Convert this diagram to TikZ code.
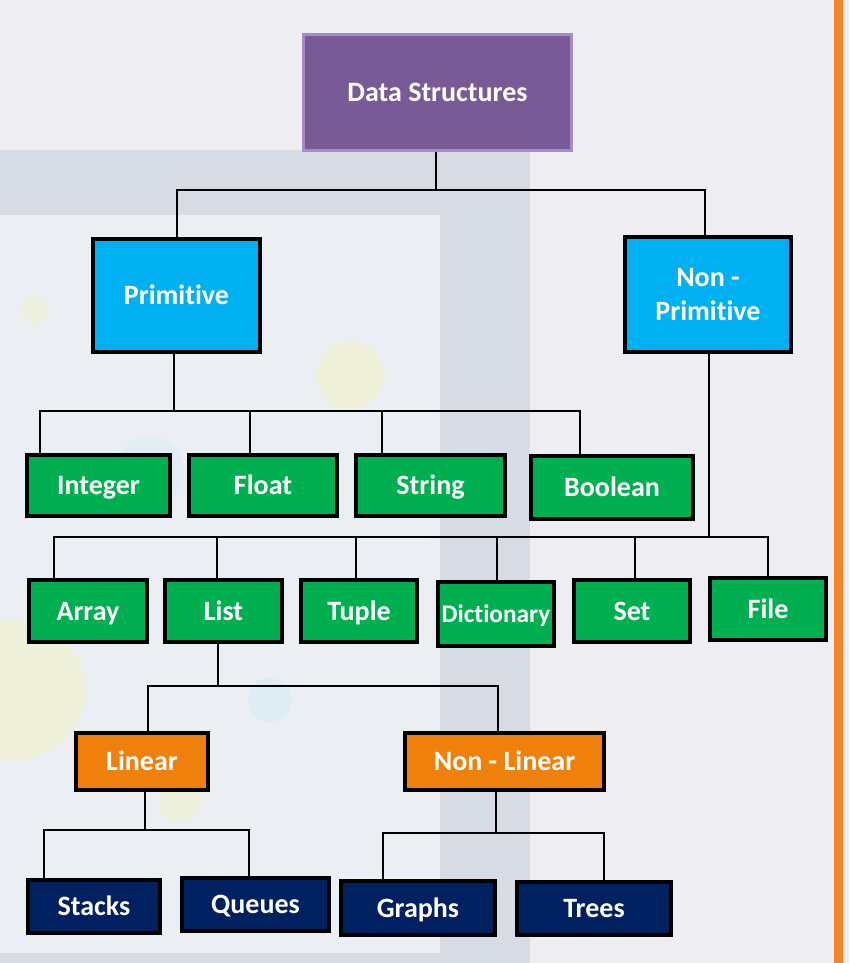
\documentclass[tikz,border=0pt]{standalone}
\usepackage{fontspec}
\setmainfont{Carlito}[Ligatures=NoCommon]
\definecolor{bgc}{HTML}{EEEDF1}
\definecolor{framec}{HTML}{D7DBE3}
\definecolor{screenc}{HTML}{EBEFF3}
\definecolor{dsfill}{HTML}{785A96}
\definecolor{dsline}{HTML}{A68BC5}
\definecolor{bluec}{HTML}{00B0F0}
\definecolor{greenc}{HTML}{00B050}
\definecolor{orangec}{HTML}{EF800C}
\definecolor{navyc}{HTML}{002060}
\definecolor{stripec}{HTML}{F5862A}
\tikzset{
  bx/.style={draw=black, line width=3.2pt, text=white, font=\fontsize{21}{25}\selectfont\bfseries, align=center, inner sep=0pt, text height=13.5pt, text depth=0pt},
  pbox/.style={bx, fill=bluec},
  gbox/.style={bx, fill=greenc},
  obox/.style={bx, fill=orangec},
  nbox/.style={bx, fill=navyc},
  ln/.style={draw=black, line width=1.5pt},
}
\begin{document}
\begin{tikzpicture}[x=0.75pt,y=-0.75pt]
\useasboundingbox (0,0) rectangle (849,963);
% background
\fill[bgc] (0,0) rectangle (849,963);
\fill[framec] (0,150) rectangle (530,963);
\fill[screenc] (0,215) rectangle (440,953);
\fill[yellow!60!white, opacity=0.18] (350,375) circle (34);
\fill[yellow!60!white, opacity=0.18] (15,690) circle (70);
\fill[cyan!40!white, opacity=0.12] (150,470) circle (34);
\fill[cyan!40!white, opacity=0.15] (270,700) circle (22);
\fill[yellow!60!white, opacity=0.15] (35,310) circle (14);
\fill[yellow!60!white, opacity=0.15] (180,800) circle (22);
\fill[stripec] (834,0) rectangle (843,963);

% nodes
\node[bx, fill=dsfill, draw=dsline, line width=2.6pt, minimum width=268*0.75pt, minimum height=116*0.75pt] (ds) at (437.5,92.5) {Data Structures};
\node[pbox, minimum width=167*0.75pt, minimum height=113*0.75pt] (prim) at (176.5,295.5) {Primitive};
\node[pbox, minimum width=166*0.75pt, minimum height=115*0.75pt, text height=, text depth=] (nonprim) at (708,294.5) {Non -\\Primitive};

\node[gbox, minimum width=143*0.75pt, minimum height=61*0.75pt] (int) at (98.5,485.5) {Integer};
\node[gbox, minimum width=148*0.75pt, minimum height=61*0.75pt] (float) at (263,485.5) {Float};
\node[gbox, minimum width=149*0.75pt, minimum height=61*0.75pt] (str) at (430.5,485.5) {String};
\node[gbox, minimum width=162*0.75pt, minimum height=63*0.75pt] (bool) at (612,487.5) {Boolean};

\node[gbox, minimum width=118*0.75pt, minimum height=62*0.75pt] (arr) at (88,611) {Array};
\node[gbox, minimum width=117*0.75pt, minimum height=62*0.75pt] (list) at (223.5,611) {List};
\node[gbox, minimum width=116*0.75pt, minimum height=62*0.75pt] (tup) at (359,611) {Tuple};
\node[gbox, minimum width=116*0.75pt, minimum height=64*0.75pt, font=\fontsize{19}{22}\selectfont\bfseries, text height=12.2pt] (dict) at (496,614) {Dictionary};
\node[gbox, minimum width=116*0.75pt, minimum height=62*0.75pt] (set) at (632,611) {Set};
\node[gbox, minimum width=116*0.75pt, minimum height=62*0.75pt] (file) at (768,609) {File};

\node[obox, minimum width=132*0.75pt, minimum height=57*0.75pt] (lin) at (142,761.5) {Linear};
\node[obox, minimum width=199*0.75pt, minimum height=57*0.75pt] (nonlin) at (504.5,761.5) {Non - Linear};

\node[nbox, minimum width=132*0.75pt, minimum height=53*0.75pt] (stk) at (94,906.5) {Stacks};
\node[nbox, minimum width=147*0.75pt, minimum height=53*0.75pt] (que) at (255.5,904.5) {Queues};
\node[nbox, minimum width=154*0.75pt, minimum height=54*0.75pt] (gra) at (418,908) {Graphs};
\node[nbox, minimum width=154*0.75pt, minimum height=53*0.75pt] (tre) at (594,908.5) {Trees};

% bus coordinates
\coordinate (b1) at (436,190);
\coordinate (b1l) at (177,190);
\coordinate (b1r) at (705,190);
\coordinate (b2) at (174,411);
\coordinate (b2a) at (40,411);
\coordinate (b2b) at (250,411);
\coordinate (b2c) at (382,411);
\coordinate (b2d) at (580,411);
\coordinate (b3) at (709,537);
\coordinate (b3a) at (54,537);
\coordinate (b3b) at (217,537);
\coordinate (b3c) at (356,537);
\coordinate (b3d) at (497,537);
\coordinate (b3e) at (635,537);
\coordinate (b3f) at (768,537);
\coordinate (b4) at (218,686);
\coordinate (b4a) at (148,686);
\coordinate (b4b) at (498,686);
\coordinate (b5) at (145,830);
\coordinate (b5a) at (44,830);
\coordinate (b5b) at (249,830);
\coordinate (b6) at (496,833);
\coordinate (b6a) at (383,833);
\coordinate (b6b) at (604,833);

% connectors
\draw[ln] (b1 |- ds.south) -- (b1);
\draw[ln] (b1l |- prim.north) -- (b1l) -- (b1r) -- (b1r |- nonprim.north);

\draw[ln] (b2 |- prim.south) -- (b2);
\draw[ln] (b2a |- int.north) -- (b2a) -- (b2d) -- (b2d |- bool.north);
\draw[ln] (b2b) -- (b2b |- float.north);
\draw[ln] (b2c) -- (b2c |- str.north);

\draw[ln] (b3 |- nonprim.south) -- (b3);
\draw[ln] (b3a |- arr.north) -- (b3a) -- (b3f) -- (b3f |- file.north);
\draw[ln] (b3b) -- (b3b |- list.north);
\draw[ln] (b3c) -- (b3c |- tup.north);
\draw[ln] (b3d) -- (b3d |- dict.north);
\draw[ln] (b3e) -- (b3e |- set.north);

\draw[ln] (b4 |- list.south) -- (b4);
\draw[ln] (b4a |- lin.north) -- (b4a) -- (b4b) -- (b4b |- nonlin.north);

\draw[ln] (b5 |- lin.south) -- (b5);
\draw[ln] (b5a |- stk.north) -- (b5a) -- (b5b) -- (b5b |- que.north);

\draw[ln] (b6 |- nonlin.south) -- (b6);
\draw[ln] (b6a |- gra.north) -- (b6a) -- (b6b) -- (b6b |- tre.north);
\end{tikzpicture}
\end{document}
